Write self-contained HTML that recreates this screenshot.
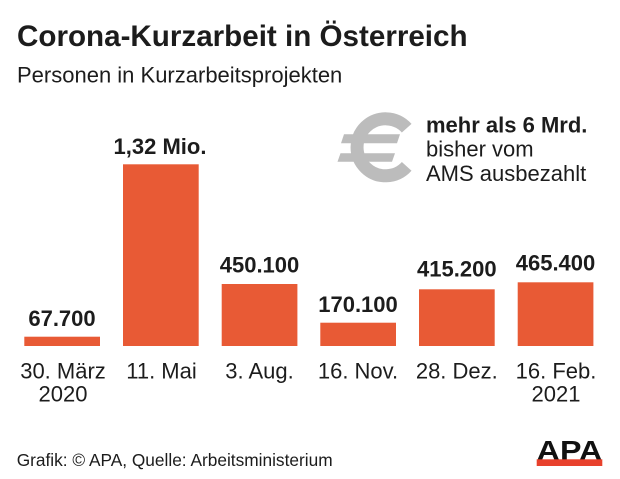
<!DOCTYPE html>
<html>
<head>
<meta charset="utf-8">
<style>
  html,body{margin:0;padding:0;background:#ffffff;}
  body{width:620px;height:479px;overflow:hidden;}
  svg{display:block;}
  text{font-family:"Liberation Sans", Arial, sans-serif;fill:#1c1c1c;}
  .b{font-weight:bold;}
</style>
</head>
<body>
<svg width="620" height="479" viewBox="0 0 620 479" xmlns="http://www.w3.org/2000/svg">
  <rect x="0" y="0" width="620" height="479" fill="#ffffff"/>

  <!-- Title & subtitle -->
  <text x="17" y="46" class="b" font-size="29.6">Corona-Kurzarbeit in Österreich</text>
  <text x="17" y="82.7" font-size="22">Personen in Kurzarbeitsprojekten</text>

  <!-- Euro icon -->
  <g fill="#bcbcbc" stroke="none">
    <path d="M406.7 128.2 A28.5 28.5 0 1 0 406.7 166.4" fill="none" stroke="#bcbcbc" stroke-width="13"/>
    <polygon points="341,143.3 344,134.3 400,134.3 397,143.3"/>
    <polygon points="337.5,161.7 340.5,153.3 395,153.3 392,161.7"/>
  </g>

  <!-- Info text -->
  <text x="426" y="132.3" class="b" font-size="22">mehr als 6 Mrd.</text>
  <text x="426" y="156.7" font-size="22">bisher vom</text>
  <text x="426" y="181" font-size="22">AMS ausbezahlt</text>

  <!-- Bars -->
  <g fill="#e85a35">
    <rect x="24.3" y="336.7" width="75.7" height="9.3"/>
    <rect x="123" y="164.3" width="75.7" height="181.7"/>
    <rect x="221.7" y="284" width="75.7" height="62"/>
    <rect x="320.3" y="322.7" width="75.7" height="23.3"/>
    <rect x="419" y="289.3" width="75.7" height="56.7"/>
    <rect x="517.7" y="282.3" width="75.7" height="63.7"/>
  </g>

  <!-- Value labels -->
  <g class="b" font-size="22" text-anchor="middle">
    <text x="62" y="326" class="b">67.700</text>
    <text x="160" y="154" class="b">1,32 Mio.</text>
    <text x="259.5" y="272.7" class="b">450.100</text>
    <text x="358" y="312" class="b">170.100</text>
    <text x="456.8" y="276.7" class="b">415.200</text>
    <text x="555.5" y="270.7" class="b">465.400</text>
  </g>

  <!-- Category labels -->
  <g font-size="22" text-anchor="middle">
    <text x="63" y="378.3">30. März</text>
    <text x="63" y="401.7">2020</text>
    <text x="161.5" y="378.3">11. Mai</text>
    <text x="259.5" y="378.3">3. Aug.</text>
    <text x="358" y="378.3">16. Nov.</text>
    <text x="456.8" y="378.3">28. Dez.</text>
    <text x="556" y="378.3">16. Feb.</text>
    <text x="556" y="401.7">2021</text>
  </g>

  <!-- Footer -->
  <text x="16.7" y="466" font-size="17.3">Grafik: © APA, Quelle: Arbeitsministerium</text>

  <!-- APA logo -->
  <text x="536.7" y="460" class="b" font-size="28" textLength="65.6" lengthAdjust="spacingAndGlyphs" style="fill:#111">APA</text>
  <rect x="536.7" y="459.3" width="65.6" height="6.7" fill="#e8412c"/>
</svg>
</body>
</html>
